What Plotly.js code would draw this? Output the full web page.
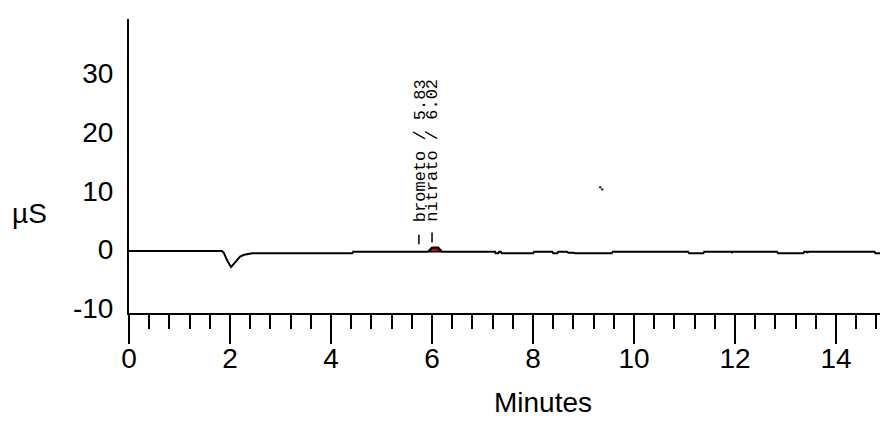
<!DOCTYPE html>
<html>
<head>
<meta charset="utf-8">
<script src="https://cdn.plot.ly/plotly-3.0.1.min.js"></script>
<style>html,body{margin:0;padding:0;background:#fff;}#chart{width:880px;height:421px;}</style>
</head>
<body>
<div id="chart"></div>
<script>
// Chromatogram signal (minutes, µS)
const timeMin = [0, 1.84, 1.88, 1.94, 2.02, 2.08, 2.14, 2.2, 2.28, 2.36, 2.44, 4.42, 4.44, 5.92, 6.0, 6.12, 6.2,
  7.25, 7.26, 7.31, 7.33, 7.36, 7.38, 8.0, 8.02, 8.38, 8.4, 8.48, 8.5, 8.67, 8.7, 8.8, 8.83, 9.56, 9.58,
  11.07, 11.09, 11.37, 11.39, 11.93, 11.94, 11.96, 12.83, 12.85, 13.35, 13.37, 13.42, 13.43, 13.45, 14.76, 14.78, 14.87];
const signalUS = [-0.25, -0.25, -0.6, -1.8, -3.0, -2.4, -1.7, -1.2, -0.9, -0.8, -0.65, -0.65, -0.37, -0.37, 0.35, 0.35, -0.37,
  -0.37, -0.65, -0.65, -0.37, -0.37, -0.65, -0.65, -0.37, -0.37, -0.65, -0.65, -0.37, -0.37, -0.55, -0.55, -0.65, -0.65, -0.37,
  -0.37, -0.65, -0.65, -0.37, -0.37, -0.6, -0.37, -0.37, -0.65, -0.65, -0.37, -0.37, -0.6, -0.37, -0.37, -0.65, -0.65];

// Integrated (filled) peak of nitrato
const peakTime = [5.93, 6.0, 6.12, 6.19];
const peakSignal = [-0.37, 0.3, 0.3, -0.37];

// Peak labels
const peakNames = ["brometo / 5.83", "nitrato / 6.02"];
const peakRT = [5.83, 6.02];

// Stray points
const strayTime = [9.33, 9.37];
const strayValue = [10.6, 10.2];

const xTicks = [0, 2, 4, 6, 8, 10, 12, 14];
const yTicks = [-10, 0, 10, 20, 30];

const tickFont = {family: "'Liberation Sans', Arial, sans-serif", size: 28, color: '#000'};

const fillX = peakTime.concat([peakTime[0]]);
const fillY = peakSignal.concat([peakSignal[0]]);

const traces = [
  {x: fillX, y: fillY, type: 'scatter', mode: 'lines', fill: 'toself', fillcolor: '#d00000',
   line: {color: '#000', width: 1.5}, hoverinfo: 'skip', showlegend: false},
  {x: timeMin, y: signalUS, type: 'scatter', mode: 'lines', line: {color: '#000', width: 2}, showlegend: false},
  {x: strayTime, y: strayValue, type: 'scatter', mode: 'markers', marker: {color: '#333', size: 2.5}, showlegend: false}
];

const labelShift = [-3, 0];
const markShift = [-0.09, -0.02];
const markLow = [0.9, 1.2];
const markHigh = [2.5, 2.9];

const annotations = peakNames.map((name, i) => ({
  x: peakRT[i], y: 4.3, xref: 'x', yref: 'y', text: name, showarrow: false,
  textangle: -90, xanchor: 'center', yanchor: 'bottom', xshift: labelShift[i],
  font: {family: "'Liberation Mono', 'Courier New', monospace", size: 17, color: '#000'}
}));
annotations.push({x: -0.132, y: 0.337, xref: 'paper', yref: 'paper', text: 'µS', showarrow: false,
  xanchor: 'center', yanchor: 'middle', font: tickFont});
annotations.push({x: 0.551, y: -0.305, xref: 'paper', yref: 'paper', text: 'Minutes', showarrow: false,
  xanchor: 'center', yanchor: 'middle', font: tickFont});

const shapes = peakRT.map((t, i) => ({
  type: 'line', xref: 'x', yref: 'y', x0: t + markShift[i], x1: t + markShift[i], y0: markLow[i], y1: markHigh[i],
  line: {color: '#000', width: 1.5}
}));

const layout = {
  width: 880, height: 421,
  margin: {l: 129, r: 0, t: 19, b: 108, pad: 0},
  paper_bgcolor: '#fff', plot_bgcolor: '#fff',
  showlegend: false,
  xaxis: {
    range: [0, 14.87], tickvals: xTicks, ticktext: xTicks.map(String),
    showline: true, linecolor: '#000', linewidth: 2, showgrid: false, zeroline: false,
    ticks: 'outside', ticklen: 29, tickwidth: 2, tickcolor: '#000',
    minor: {dtick: 0.4, tick0: 0, ticks: 'outside', ticklen: 14, tickwidth: 2, tickcolor: '#000', showgrid: false},
    tickfont: tickFont, ticklabelstandoff: -10
  },
  yaxis: {
    range: [-10.8, 39.2], tickvals: yTicks, ticktext: yTicks.map(v => v < 0 ? '-' + Math.abs(v) : String(v)),
    showline: true, linecolor: '#000', linewidth: 2, showgrid: false, zeroline: false,
    ticks: '', tickfont: tickFont, ticklabelstandoff: 8
  },
  annotations: annotations,
  shapes: shapes
};

Plotly.newPlot('chart', traces, layout, {staticPlot: true, displayModeBar: false});
</script>
</body>
</html>
